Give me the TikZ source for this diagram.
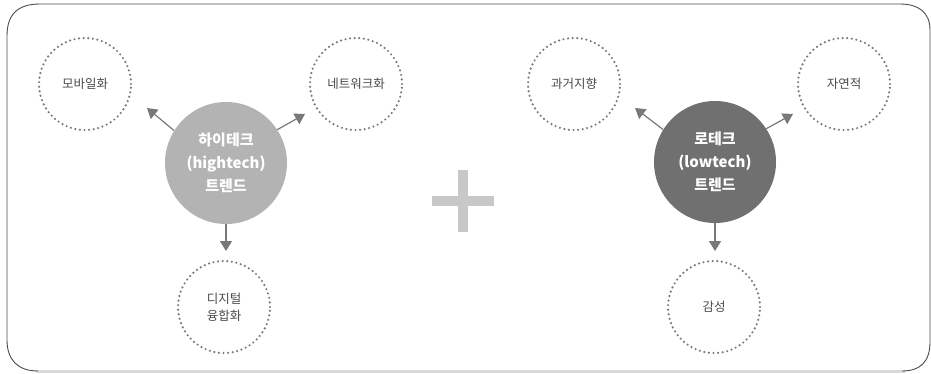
\documentclass[tikz,border=0pt]{standalone}
\usepackage{fontspec}
\setmainfont{Noto Sans CJK KR}
\usetikzlibrary{arrows.meta}
\definecolor{hicol}{HTML}{B3B3B3}
\definecolor{locol}{HTML}{707070}
\definecolor{dotcol}{HTML}{7A7A7A}
\definecolor{arrcol}{HTML}{787878}
\definecolor{txtcol}{HTML}{4A4A4A}
\definecolor{pluscol}{HTML}{C8C8C8}
\tikzset{
  smallc/.style={circle, minimum size=92pt, inner sep=0pt, draw=dotcol, line width=2.4pt,
    dash pattern=on 0pt off 4.6pt, line cap=round, text=txtcol, font=\fontsize{12.5}{17}\selectfont, align=center},
  bigc/.style={circle, minimum size=122pt, inner sep=0pt, text=white,
    font=\bfseries\fontsize{15}{23}\selectfont, align=center},
  arr/.style={draw=arrcol, line width=1.2pt, -{Triangle[width=12pt,length=10pt]}, arrcol},
}
\begin{document}
\begin{tikzpicture}[x=1pt,y=-1pt]
\useasboundingbox (0,0) rectangle (931,373);
% frame
\draw[line width=2.5pt, draw=black!15] (36,371.5) -- (905,371.5);
\draw[line width=0.9pt, draw=black!70]
  (38,371) .. controls (18,371) and (7,360) .. (7,340) -- (7,36)
  .. controls (7,14) and (18,4) .. (40,4) -- (900,4)
  .. controls (918,4) and (930,12) .. (930,30) -- (930,342)
  .. controls (930,362) and (920,371) .. (902,371);
% left group
\node[bigc, fill=hicol] (hi) at (226,163) {하이테크\\(hightech)\\트렌드};
\node[smallc] (mob) at (85,84) {모바일화};
\node[smallc] (net) at (356,84) {네트워크화};
\node[smallc] (dig) at (224,307) {디지털\\융합화};
\coordinate (hiL) at (147,108);
\coordinate (hiR) at (305,114);
\coordinate (hiD) at (226,251);
\draw[arr] (hi.148) -- (hiL);
\draw[arr] (hi.33) -- (hiR);
\draw[arr] (hi.south) -- (hiD);
% plus
\node[fill=pluscol, minimum width=62pt, minimum height=10pt, inner sep=0pt] (plusH) at (463,201) {};
\node[fill=pluscol, minimum width=10pt, minimum height=62pt, inner sep=0pt] (plusV) at (463,201) {};
% right group
\node[bigc, fill=locol] (lo) at (715,162) {로테크\\(lowtech)\\트렌드};
\node[smallc] (past) at (574,84) {과거지향};
\node[smallc] (nat) at (844,84) {자연적};
\node[smallc] (emo) at (714,307) {감성};
\coordinate (loL) at (635,108);
\coordinate (loR) at (793,114);
\coordinate (loD) at (715,251);
\draw[arr] (lo.148) -- (loL);
\draw[arr] (lo.33) -- (loR);
\draw[arr] (lo.south) -- (loD);
\end{tikzpicture}
\end{document}
